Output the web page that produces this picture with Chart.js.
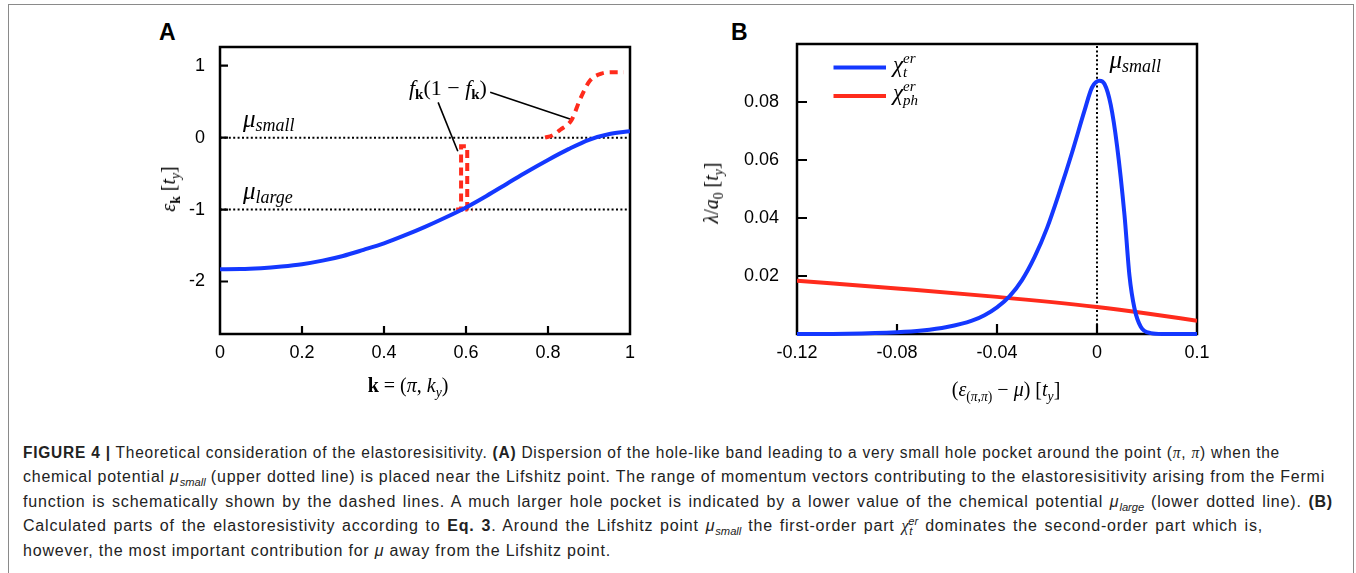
<!DOCTYPE html>
<html>
<head>
<meta charset="utf-8">
<script src="https://cdn.jsdelivr.net/npm/chart.js@4.4.0/dist/chart.umd.min.js"></script>
<style>
  body { margin: 0; width: 1356px; height: 573px; overflow: hidden; background: #fff; position: relative;
         font-family: "Liberation Sans", Arial, sans-serif; }
  .frame { position: absolute; left: 8px; top: 4px; width: 1344px; height: 640px; border: 1px solid #8a8a8a; }
  .letter { position: absolute; font: bold 23px "Liberation Sans", Arial, sans-serif; line-height: 1; }
  .box { position: absolute; }
  .box canvas { display: block; }
  .title { position: absolute; font: 20px "Liberation Serif", "DejaVu Serif", serif; white-space: nowrap;
           transform: translate(-50%, -50%); line-height: 1; }
  .title.rot { transform: translate(-50%, -50%) rotate(-90deg); }
  .title sub { font-size: 68%; vertical-align: -0.35em; line-height: 0; }
  .caption { position: absolute; left: 23px; top: 441px; font-size: 16px; letter-spacing: 0.8px;
             line-height: 24.4px; color: #222; }
  .caption .ln { white-space: nowrap; width: max-content; transform-origin: left center; height: 24.4px; }
  .caption sub, .caption sup { font-size: 70%; line-height: 0; letter-spacing: 0; }
  .caption .m { font-family: "Liberation Serif", serif; font-style: italic; }
</style>
</head>
<body>
<div class="frame"></div>

<div class="letter" style="left:159px; top:21px;">A</div>
<div class="letter" style="left:731px; top:21px;">B</div>

<div class="box" style="left:150px; top:40px; width:500px; height:340px;">
  <canvas id="bandChart" width="500" height="340"></canvas>
</div>
<div class="box" style="left:700px; top:40px; width:520px; height:340px;">
  <canvas id="chiChart" width="520" height="340"></canvas>
</div>

<div class="title rot" style="left:168px; top:189px;"><i>ε</i><sub><b>k</b></sub> [<i>t</i><sub><i>y</i></sub>]</div>
<div class="title" style="left:408px; top:385px;"><b>k</b> = (<i>π</i>, <i>k</i><sub><i>y</i></sub>)</div>
<div class="title rot" style="left:711px; top:193px;"><i>λ</i>/<i>a</i><sub>0</sub> [<i>t</i><sub><i>y</i></sub>]</div>
<div class="title" style="left:1006px; top:389px;">(<i>ε</i><sub>(<i>π</i>,<i>π</i>)</sub> − <i>μ</i>) [<i>t</i><sub><i>y</i></sub>]</div>

<div class="caption">
  <div class="ln" data-w="1257"><b>FIGURE 4</b> <b>|</b> Theoretical consideration of the elastoresisitivity. <b>(A)</b> Dispersion of the hole-like band leading to a very small hole pocket around the point (<span class="m">π</span>, <span class="m">π</span>) when the</div>
  <div class="ln" data-w="1302">chemical potential <i>μ</i><sub><i>small</i></sub> (upper dotted line) is placed near the Lifshitz point. The range of momentum vectors contributing to the elastoresisitivity arising from the Fermi</div>
  <div class="ln" data-w="1310">function is schematically shown by the dashed lines. A much larger hole pocket is indicated by a lower value of the chemical potential <i>μ</i><sub><i>large</i></sub> (lower dotted line). <b>(B)</b></div>
  <div class="ln" data-w="1240">Calculated parts of the elastoresistivity according to <b>Eq. 3</b>. Around the Lifshitz point <i>μ</i><sub><i>small</i></sub> the first-order part <span class="m">χ</span><sub><i>t</i></sub><sup style="margin-left:-4px"><i>er</i></sup> dominates the second-order part which is,</div>
  <div class="ln">however, the most important contribution for <i>μ</i> away from the Lifshitz point.</div>
</div>

<script>
// ---- panel A: band dispersion ----
const bandK = [0, 0.05, 0.1, 0.15, 0.2, 0.25, 0.3, 0.35, 0.4, 0.45, 0.5, 0.55, 0.6, 0.65, 0.7, 0.75, 0.8, 0.85, 0.9, 0.95, 1.0];
const bandE = [-1.83, -1.828, -1.815, -1.792, -1.76, -1.71, -1.645, -1.56, -1.47, -1.36, -1.24, -1.11, -0.97, -0.81, -0.64, -0.47, -0.31, -0.16, -0.03, 0.05, 0.09];
// f_k(1 - f_k) sketches (dashed red)
const spikeK = [0.576, 0.588, 0.588, 0.603, 0.603, 0.617];
const spikeE = [-1, -1, -0.12, -0.12, -1, -1];
const tailK = [0.793, 0.81, 0.83, 0.858, 0.878, 0.902, 0.93, 0.955, 0.985];
const tailE = [0, 0.03, 0.11, 0.25, 0.53, 0.79, 0.89, 0.91, 0.91];
const muSmall = 0;
const muLarge = -1;
const leaderK = [[0.532, 0.580], [0.659, 0.859]];
const leaderE = [[0.49, -0.19], [0.63, 0.25]];
const bandTicksX = [0, 0.2, 0.4, 0.6, 0.8, 1];
const bandLabelsX = ['0', '0.2', '0.4', '0.6', '0.8', '1'];
const bandTicksY = [1, 0, -1, -2];
const bandLabelsY = ['1', '0', '-1', '-2'];

// ---- panel B: elastoresistivity parts ----
const chiTX = [-0.12, -0.1, -0.08, -0.07, -0.06, -0.05, -0.045, -0.04, -0.035, -0.03, -0.025, -0.02, -0.015, -0.01, -0.005, -0.002, 0.001, 0.003, 0.0055, 0.008, 0.011, 0.013, 0.015, 0.0175, 0.0215, 0.026, 0.04];
const chiTY = [0, 0.0001, 0.0006, 0.0012, 0.0024, 0.0046, 0.0065, 0.0092, 0.013, 0.0186, 0.0265, 0.0365, 0.049, 0.0625, 0.077, 0.085, 0.0873, 0.0862, 0.079, 0.065, 0.041, 0.020, 0.0088, 0.0025, 0.0003, 0, 0];
const chiPhX = [-0.12, -0.08, -0.04, 0, 0.02, 0.04];
const chiPhY = [0.0184, 0.0157, 0.0128, 0.0093, 0.0071, 0.0046];
const chiTicksX = [-0.12, -0.08, -0.04, 0, 0.04];
const chiLabelsX = ['-0.12', '-0.08', '-0.04', '0', '0.1'];
const chiTicksY = [0.02, 0.04, 0.06, 0.08];
const chiLabelsY = ['0.02', '0.04', '0.06', '0.08'];

const BLUE = '#1438ff';
const RED = '#ff2b1c';
const SERIF = '"Liberation Serif", "DejaVu Serif", serif';
const SANS = '"Liberation Sans", Arial, sans-serif';

const pts = (xs, ys) => xs.map((x, i) => ({ x: x, y: ys[i] }));

// draw text made of pieces (sub/superscripts); pieces with stack share the x of the previous piece
function drawRich(ctx, parts, x, y, align) {
    ctx.save();
    ctx.textBaseline = 'alphabetic';
    ctx.fillStyle = '#000';
    let total = 0, lastX = 0;
    const placed = parts.map(p => {
        ctx.font = p.font;
        const w = ctx.measureText(p.text).width;
        const px = p.stack ? lastX : total;
        total = Math.max(total, px + w);
        lastX = px;
        return { p: p, px: px };
    });
    const x0 = align === 'center' ? x - total / 2 : x;
    placed.forEach(({ p, px }) => {
        ctx.font = p.font;
        ctx.fillText(p.text, x0 + px, y + (p.dy || 0));
    });
    ctx.restore();
}

const muParts = sub => [
    { text: 'μ', font: 'italic 25px ' + SERIF },
    { text: sub, font: 'italic 18px ' + SERIF, dy: 4 }
];

// black frame plus inward tick marks
const framePlugin = {
    id: 'frame',
    beforeDatasetsDraw(chart, args, opts) {
        const { ctx, chartArea: a, scales } = chart;
        ctx.save();
        ctx.strokeStyle = '#000';
        ctx.lineWidth = 2.5;
        ctx.strokeRect(a.left, a.top, a.right - a.left, a.bottom - a.top);
        ctx.lineWidth = 2.2;
        ctx.beginPath();
        scales.x.ticks.forEach(t => {
            const px = scales.x.getPixelForValue(t.value);
            if (px > a.left + 3 && px < a.right - 3) {
                ctx.moveTo(px, a.bottom);
                ctx.lineTo(px, a.bottom - opts.tick);
            }
        });
        scales.y.ticks.forEach(t => {
            const py = scales.y.getPixelForValue(t.value);
            if (py > a.top + 3 && py < a.bottom - 3) {
                ctx.moveTo(a.left, py);
                ctx.lineTo(a.left + opts.tick, py);
            }
        });
        ctx.stroke();
        ctx.restore();
    }
};

function axis(min, max, ticks, labels, padding, fit, horizontal) {
    return {
        type: 'linear',
        min: min,
        max: max,
        grid: { display: false, drawTicks: false },
        border: { display: false },
        afterBuildTicks: s => { s.ticks = ticks.map(v => ({ value: v })); },
        afterFit: s => {
            // fixed axis size and no extra label padding, so the plot box sits where the figure has it
            if (horizontal) s.height = fit; else s.width = fit;
            s.paddingTop = 0; s.paddingBottom = 0; s.paddingLeft = 0; s.paddingRight = 0;
        },
        ticks: {
            autoSkip: false,
            maxRotation: 0,
            padding: padding,
            color: '#000',
            font: { family: SANS, size: 18 },
            callback: (v, i) => labels[i]
        }
    };
}

const baseOptions = {
    responsive: false,
    animation: false,
    events: [],
    elements: { point: { radius: 0 } },
    plugins: { legend: { display: false }, tooltip: { enabled: false } }
};

// ---------- panel A ----------
const bandNotes = {
    id: 'bandNotes',
    afterDatasetsDraw(chart) {
        const { ctx, scales: { x, y } } = chart;
        drawRich(ctx, muParts('small'), x.getPixelForValue(0.056), y.getPixelForValue(muSmall) - 11, 'left');
        drawRich(ctx, muParts('large'), x.getPixelForValue(0.056), y.getPixelForValue(muLarge) - 11, 'left');
        drawRich(ctx, [
            { text: 'f', font: 'italic 22px ' + SERIF },
            { text: 'k', font: 'bold 15px ' + SERIF, dy: 4 },
            { text: '(1 − ', font: '22px ' + SERIF },
            { text: 'f', font: 'italic 22px ' + SERIF },
            { text: 'k', font: 'bold 15px ' + SERIF, dy: 4 },
            { text: ')', font: '22px ' + SERIF }
        ], x.getPixelForValue(0.556), y.getPixelForValue(0.59), 'center');
    }
};

const bandDatasets = [
    { data: pts(bandK, bandE), borderColor: BLUE, borderWidth: 4, cubicInterpolationMode: 'monotone', order: 0 },
    { data: pts(spikeK, spikeE), borderColor: RED, borderWidth: 4, borderDash: [8, 5], tension: 0, order: 1 },
    { data: pts(tailK, tailE), borderColor: RED, borderWidth: 4, borderDash: [8, 6], cubicInterpolationMode: 'monotone', order: 1 },
    { data: pts([0, 1], [muSmall, muSmall]), borderColor: '#000', borderWidth: 2, borderDash: [2, 2.4], order: 2 },
    { data: pts([0, 1], [muLarge, muLarge]), borderColor: '#000', borderWidth: 2, borderDash: [2, 2.4], order: 2 }
];
leaderK.forEach((ks, i) => {
    bandDatasets.push({ data: pts(ks, leaderE[i]), borderColor: '#000', borderWidth: 1.6, order: 3 });
});

new Chart(document.getElementById('bandChart'), {
    type: 'scatter',
    data: { datasets: bandDatasets.map(d => Object.assign({ showLine: true, fill: false }, d)) },
    options: Object.assign({}, baseOptions, {
        layout: { padding: { left: 0, right: 20, top: 7, bottom: 0 } },
        scales: {
            x: axis(0, 1, bandTicksX, bandLabelsX, 8, 46, true),
            y: axis(-2.73, 1.26, bandTicksY, bandLabelsY, 15, 70, false)
        },
        plugins: Object.assign({}, baseOptions.plugins, { frame: { tick: 8 } })
    }),
    plugins: [framePlugin, bandNotes]
});

// ---------- panel B ----------
const chiNotes = {
    id: 'chiNotes',
    afterDatasetsDraw(chart) {
        const { ctx, chartArea: a, scales: { x, y } } = chart;
        drawRich(ctx, muParts('small'), x.getPixelForValue(0.005), y.getPixelForValue(0.0917), 'left');
        // legend
        ctx.save();
        ctx.lineWidth = 4;
        [[BLUE, 23.5], [RED, 52]].forEach(([c, dy]) => {
            ctx.strokeStyle = c;
            ctx.beginPath();
            ctx.moveTo(a.left + 36.5, a.top + dy);
            ctx.lineTo(a.left + 89, a.top + dy);
            ctx.stroke();
        });
        ctx.restore();
        drawRich(ctx, [
            { text: 'χ', font: 'italic 23px ' + SERIF },
            { text: 'er', font: 'italic 15px ' + SERIF, dy: -9 },
            { text: 't', font: 'italic 15px ' + SERIF, dy: 5, stack: true }
        ], a.left + 96, a.top + 28, 'left');
        drawRich(ctx, [
            { text: 'χ', font: 'italic 23px ' + SERIF },
            { text: 'er', font: 'italic 15px ' + SERIF, dy: -9 },
            { text: 'ph', font: 'italic 15px ' + SERIF, dy: 5, stack: true }
        ], a.left + 96, a.top + 56, 'left');
    }
};

const chiDatasets = [
    { data: pts(chiTX, chiTY), borderColor: BLUE, borderWidth: 4, cubicInterpolationMode: 'monotone', clip: false, order: 0 },
    { data: pts(chiPhX, chiPhY), borderColor: RED, borderWidth: 4, cubicInterpolationMode: 'monotone', order: 1 },
    { data: pts([0, 0], [0, 0.1]), borderColor: '#000', borderWidth: 2, borderDash: [2, 2.4], order: 2 }
];

new Chart(document.getElementById('chiChart'), {
    type: 'scatter',
    data: { datasets: chiDatasets.map(d => Object.assign({ showLine: true, fill: false }, d)) },
    options: Object.assign({}, baseOptions, {
        layout: { padding: { left: 0, right: 23, top: 4, bottom: 0 } },
        scales: {
            x: axis(-0.12, 0.04, chiTicksX, chiLabelsX, 8, 46, true),
            y: axis(0, 0.1, chiTicksY, chiLabelsY, 18, 97, false)
        },
        plugins: Object.assign({}, baseOptions.plugins, { frame: { tick: 10 } })
    }),
    plugins: [framePlugin, chiNotes]
});

// ---------- caption: stretch each line to its width in the figure ----------
document.querySelectorAll('.caption .ln[data-w]').forEach(line => {
    const target = +line.dataset.w;
    const natural = line.getBoundingClientRect().width;
    const spaces = (line.textContent.trim().match(/ /g) || []).length;
    if (natural < target) {
        line.style.wordSpacing = ((target - natural) / spaces) + 'px';
    } else {
        line.style.transform = 'scaleX(' + (target / natural) + ')';
    }
});
</script>
</body>
</html>
